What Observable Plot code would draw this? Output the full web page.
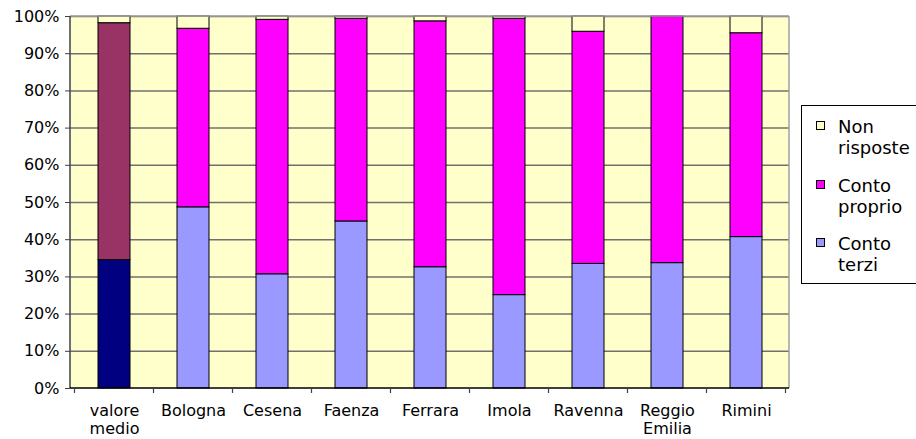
<!DOCTYPE html>
<html>
<head>
<meta charset="utf-8">
<script src="https://cdn.jsdelivr.net/npm/d3@7"></script>
<script src="https://cdn.jsdelivr.net/npm/@observablehq/plot@0.6"></script>
<style>
  html, body { margin: 0; padding: 0; background: #fff; overflow: hidden; }
  #chart { position: relative; width: 916px; height: 439px; font-family: "DejaVu Sans", Verdana, sans-serif; color: #000; }
  #chart svg { position: absolute; left: 0; top: 0; }
  #legend { position: absolute; left: 801px; top: 105px; width: 150px; height: 177px; border: 1px solid #000; background: #fff; }
  .item { position: absolute; left: 0; width: 150px; }
  .swatch { position: absolute; left: 14px; width: 7px; height: 7px; border: 1px solid #000; }
  .text { position: absolute; left: 36px; font-size: 18px; line-height: 21.6px; white-space: pre; }
</style>
</head>
<body>
<div id="chart"><div id="legend"></div></div>
<script>
// Share of responses by city, in percent
const cities = ["valore medio", "Bologna", "Cesena", "Faenza", "Ferrara", "Imola", "Ravenna", "Reggio Emilia", "Rimini"];
const cityLabels = ["valore\nmedio", "Bologna", "Cesena", "Faenza", "Ferrara", "Imola", "Ravenna", "Reggio\nEmilia", "Rimini"];
const contoTerzi   = [34.5, 48.7, 30.7, 44.9, 32.6, 25.1, 33.5, 33.7, 40.7];
const contoProprio = [63.7, 48.0, 68.4, 54.5, 66.1, 74.3, 62.4, 66.3, 54.8];
const nonRisposte  = [1.8, 3.3, 0.9, 0.6, 1.3, 0.6, 4.1, 0.0, 4.5];
const yTicks = [0, 10, 20, 30, 40, 50, 60, 70, 80, 90, 100];

// Stack order: bottom to top
const seriesNames = ["Conto terzi", "Conto proprio", "Non risposte"];
const seriesValues = [contoTerzi, contoProprio, nonRisposte];
const seriesColors = {"Conto terzi": "#9999ff", "Conto proprio": "#ff00ff", "Non risposte": "#ffffcc"};
const averageColors = {"Conto terzi": "#000080", "Conto proprio": "#993366", "Non risposte": "#ffffcc"};

const rows = [];
cities.forEach((city, i) => {
  seriesNames.forEach((s, k) => rows.push({city, series: s, value: seriesValues[k][i]}));
});

const labelOf = new Map(cities.map((c, i) => [c, cityLabels[i]]));

// Plot-area chrome: border, axis lines and category boundary ticks
function chrome(index, scales, values, dims) {
  const {width, height, marginLeft, marginRight, marginTop, marginBottom} = dims;
  const left = marginLeft, right = width - marginRight, top = marginTop, bottom = height - marginBottom;
  const x = scales.x;
  const step = x.step ? x.step() : (right - left) / cities.length;
  const g = d3.create("svg:g");
  g.append("line").attr("x1", right).attr("x2", right).attr("y1", top).attr("y2", bottom)
    .attr("stroke", "#a0a0a0").attr("stroke-width", 1.5);
  g.append("line").attr("x1", left).attr("x2", right).attr("y1", top).attr("y2", top)
    .attr("stroke", "#a0a0a0").attr("stroke-width", 1.5);
  g.append("line").attr("x1", left).attr("x2", left).attr("y1", top).attr("y2", bottom)
    .attr("stroke", "#404040").attr("stroke-width", 1.5);
  g.append("line").attr("x1", left).attr("x2", right).attr("y1", bottom).attr("y2", bottom)
    .attr("stroke", "#000").attr("stroke-width", 1.5);
  const x0 = x(cities[0]) - (step - x.bandwidth()) / 2;
  for (let i = 0; i <= cities.length; i++) {
    const xi = x0 + i * step;
    g.append("line").attr("x1", xi).attr("x2", xi).attr("y1", bottom).attr("y2", bottom + 5)
      .attr("stroke", "#404040").attr("stroke-width", 1.2);
  }
  return g.node();
}

const chart = Plot.plot({
  width: 916,
  height: 439,
  marginLeft: 70,
  marginRight: 127,
  marginTop: 16,
  marginBottom: 51,
  style: {fontFamily: "DejaVu Sans, Verdana, sans-serif", fontSize: "16px", color: "#000", background: "transparent", overflow: "visible"},
  x: {domain: cities, paddingInner: 0.6, paddingOuter: 0.3, label: null},
  y: {domain: [0, 100], label: null},
  color: {type: "identity"},
  marks: [
    Plot.frame({fill: "#ffffcc", stroke: null}),
    Plot.gridY(yTicks.slice(1), {stroke: "#707070", strokeOpacity: 1, strokeWidth: 1.5}),
    Plot.barY(rows, {
      x: "city",
      y: "value",
      fill: d => (d.city === "valore medio" ? averageColors : seriesColors)[d.series],
      stroke: "#000",
      strokeWidth: 1
    }),
    chrome,
    Plot.axisY(yTicks, {tickSize: 5, tickPadding: 6, tickFormat: d => d + "%", fontSize: 16, stroke: "#404040", label: null}),
    Plot.axisX({tickSize: 0, tickPadding: 15, tickFormat: d => labelOf.get(d), fontSize: 16, lineHeight: 1.12, label: null})
  ]
});
document.getElementById("chart").prepend(chart);

// Legend, top to bottom
const legendItems = [
  {name: "Non\nrisposte", color: seriesColors["Non risposte"], top: 15},
  {name: "Conto\nproprio", color: seriesColors["Conto proprio"], top: 74},
  {name: "Conto\nterzi", color: seriesColors["Conto terzi"], top: 132}
];
const legend = d3.select("#legend");
legendItems.forEach(it => {
  const item = legend.append("div").attr("class", "item").style("top", it.top + "px");
  item.append("div").attr("class", "swatch").style("top", "0px").style("background", it.color);
  item.append("div").attr("class", "text").style("top", "-5.3px").text(it.name);
});
</script>
</body>
</html>
